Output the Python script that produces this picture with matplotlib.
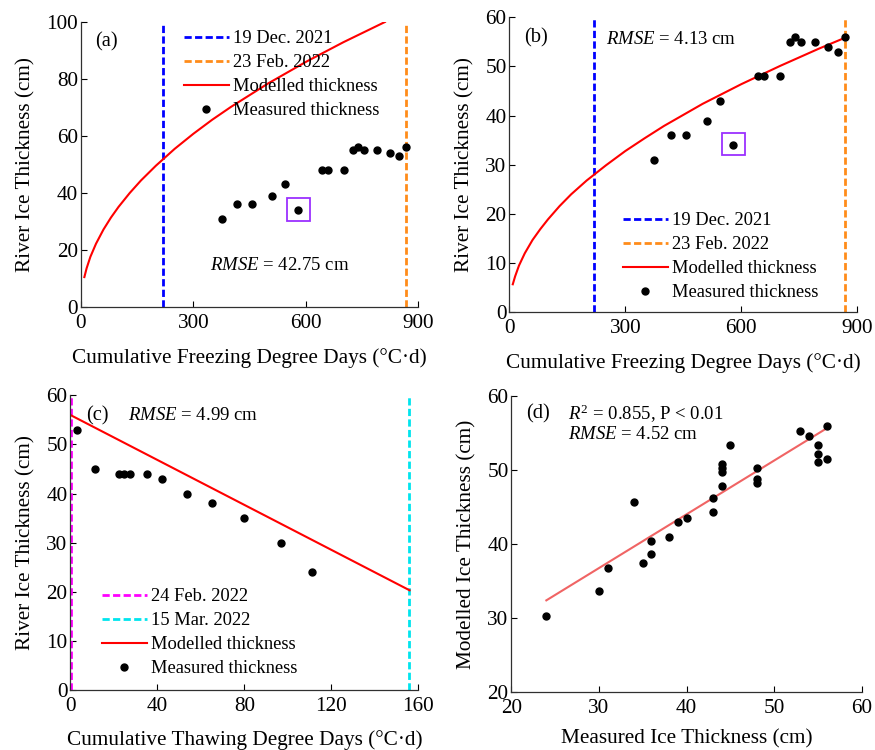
import matplotlib
matplotlib.use("Agg")
import matplotlib.pyplot as plt
from matplotlib.patches import Rectangle

plt.rcParams.update({
    "font.family": ["Liberation Serif", "DejaVu Serif"],
    "mathtext.fontset": "custom",
    "mathtext.rm": "Liberation Serif",
    "mathtext.it": "Liberation Serif:italic",
    "font.size": 15.3,
    "axes.linewidth": 0.9,
    "axes.edgecolor": "#303030",
    "xtick.direction": "in",
    "ytick.direction": "in",
    "xtick.major.size": 4,
    "ytick.major.size": 4,
    "xtick.major.pad": 5,
    "ytick.major.pad": 2,
})

# ---- freezing period (panels a, b) ----
fdd_meas = [375, 417, 456, 510, 544, 579, 644, 658, 701, 726, 738, 755, 791, 824, 849, 867]
ice_meas_f = [31, 36, 36, 39, 43, 34, 48, 48, 48, 55, 56, 55, 55, 54, 53, 56]

fdd_curve = [9, 15, 25, 40, 60, 80, 100, 130, 160, 200, 250, 300, 350, 400, 500, 600, 700, 811]
ice_model_a = [10.5, 13.6, 17.6, 22.2, 27.2, 31.4, 35.1, 40.0, 44.4, 49.6, 55.5, 60.8,
               65.7, 70.2, 78.5, 86.0, 92.9, 100.0]

fdd_curve_b = [9, 15, 25, 40, 60, 80, 100, 130, 160, 200, 250, 300, 350, 400, 500, 600,
               700, 800, 867]
ice_model_b = [5.7, 7.3, 9.5, 12.0, 14.7, 16.9, 18.9, 21.6, 24.0, 26.8, 29.9, 32.8, 35.4,
               37.9, 42.4, 46.4, 50.1, 53.6, 55.8]

fdd_dates = [220, 867]

# ---- thawing period (panel c) ----
tdd_meas = [3.1, 11.3, 22.2, 24.8, 27.4, 35.3, 42.1, 53.8, 65.1, 80.0, 96.9, 111.3]
ice_meas_t = [53, 45, 44, 44, 44, 44, 43, 40, 38, 35, 30, 24]
tdd_line = [0, 156]
ice_model_c = [56.0, 20.3]
tdd_dates = [0.3, 155.6]

# ---- validation (panel d) ----
meas_all = [24, 30, 31, 34, 35, 36, 36, 38, 39, 40, 43, 43, 44, 44, 44, 44, 45, 48, 48, 48,
            53, 54, 55, 55, 55, 56, 56]
model_all = [30.3, 33.6, 36.8, 45.7, 37.5, 40.45, 38.7, 40.9, 42.9, 43.5, 46.2, 44.3, 50.8,
             50.3, 49.7, 47.8, 53.3, 50.2, 48.7, 48.2, 55.3, 54.5, 53.4, 52.2, 51.1, 55.9, 51.5]
fit_x = [24, 56]
fit_y = [32.4, 55.6]

BLUE, ORANGE, RED = "#0000ff", "#ff8c1a", "#ff0000"
MAGENTA, CYAN, PURPLE = "#ff00ff", "#00e5ee", "#9b30ff"
DASH = (2.6, 1.2)
LEG_FS = 13.3
NOTE_FS = 13.5

fig = plt.figure(figsize=(8.75, 7.5), dpi=100)


def add_ax(l, r, t, b):
    ax = fig.add_axes([l / 875, 1 - b / 750, (r - l) / 875, (b - t) / 750])
    ax.spines["top"].set_visible(False)
    ax.spines["right"].set_visible(False)
    return ax


def legend(ax, x, y):
    ax.legend(loc="upper left", bbox_to_anchor=(x / 875, 1 - y / 750),
              bbox_transform=fig.transFigure, frameon=False, borderpad=0,
              handlelength=2.43, handletextpad=0.22, labelspacing=0.38,
              borderaxespad=0, fontsize=LEG_FS)


def note(x, y, s, **kw):
    fig.text(x / 875, 1 - y / 750, s, ha="left", va="center", fontsize=NOTE_FS, **kw)


def panel_tag(x, y, s):
    fig.text(x / 875, 1 - y / 750, s, ha="center", va="center", fontsize=14.8)


def freezing_panel(ax, xc, yc):
    ax.axvline(fdd_dates[0], color=BLUE, lw=2, dashes=DASH, label="19 Dec. 2021")
    ax.axvline(fdd_dates[1], color=ORANGE, lw=2, dashes=DASH, label="23 Feb. 2022")
    ax.plot(xc, yc, color=RED, lw=1.5, label="Modelled thickness")
    ax.plot(fdd_meas, ice_meas_f, "o", color="black", ms=5, ls="none",
            label="Measured thickness")
    ax.set_xlim(0, 900)
    ax.set_xticks([0, 300, 600, 900])
    ax.set_xlabel("Cumulative Freezing Degree Days (\u00b0C\u00b7d)", labelpad=11)
    ax.set_ylabel("River Ice Thickness (cm)", labelpad=8)


# (a)
ax = add_ax(81, 418.3, 22, 307)
freezing_panel(ax, fdd_curve, ice_model_a)
ax.set_ylim(0, 100)
ax.set_yticks([0, 20, 40, 60, 80, 100])
ax.add_patch(Rectangle((550, 30.3), 60, 7.9, fill=False, ec=PURPLE, lw=1.3))
panel_tag(106.7, 41.7, "(a)")
note(210, 265.7, r"$\mathit{RMSE}$ = 42.75 cm")
legend(ax, 184, 30)

# (b)
ax = add_ax(509.3, 857.3, 17.3, 312.3)
freezing_panel(ax, fdd_curve_b, ice_model_b)
ax.set_ylim(0, 60)
ax.set_yticks([0, 10, 20, 30, 40, 50, 60])
ax.add_patch(Rectangle((551, 31.9), 59, 4.5, fill=False, ec=PURPLE, lw=1.3))
panel_tag(536, 37.7, "(b)")
note(605.7, 39.3, r"$\mathit{RMSE}$ = 4.13 cm")
legend(ax, 622.7, 212)

# (c)
ax = add_ax(70.3, 418.3, 395.3, 690)
ax.axvline(tdd_dates[0], color=MAGENTA, lw=2, dashes=DASH, label="24 Feb. 2022")
ax.axvline(tdd_dates[1], color=CYAN, lw=2, dashes=DASH, label="15 Mar. 2022")
ax.plot(tdd_line, ice_model_c, color=RED, lw=1.5, label="Modelled thickness")
ax.plot(tdd_meas, ice_meas_t, "o", color="black", ms=5, ls="none", label="Measured thickness")
ax.set_xlim(0, 160)
ax.set_ylim(0, 60)
ax.set_xticks([0, 40, 80, 120, 160])
ax.set_yticks([0, 10, 20, 30, 40, 50, 60])
ax.set_xlabel("Cumulative Thawing Degree Days (\u00b0C\u00b7d)", labelpad=10)
ax.set_ylabel("River Ice Thickness (cm)", labelpad=8)
panel_tag(97.3, 415.7, "(c)")
note(128.3, 415.7, r"$\mathit{RMSE}$ = 4.99 cm")
legend(ax, 102, 588)

# (d)
ax = add_ax(511.3, 861.7, 395.7, 692.3)
ax.plot(fit_x, fit_y, color="#f06464", lw=1.5)
ax.plot(meas_all, model_all, "o", color="black", ms=5, ls="none")
ax.set_xlim(20, 60)
ax.set_ylim(20, 60)
ax.set_xticks([20, 30, 40, 50, 60])
ax.set_yticks([20, 30, 40, 50, 60])
ax.set_xlabel("Measured Ice Thickness (cm)", labelpad=8)
ax.set_ylabel("Modelled Ice Thickness (cm)", labelpad=8)
panel_tag(538.3, 414.3, "(d)")
note(567.7, 414.3, r"$R^2$ = 0.855, P < 0.01")
note(567.7, 435, r"$\mathit{RMSE}$ = 4.52 cm")

fig.savefig("out.png", dpi=100, facecolor="white")
